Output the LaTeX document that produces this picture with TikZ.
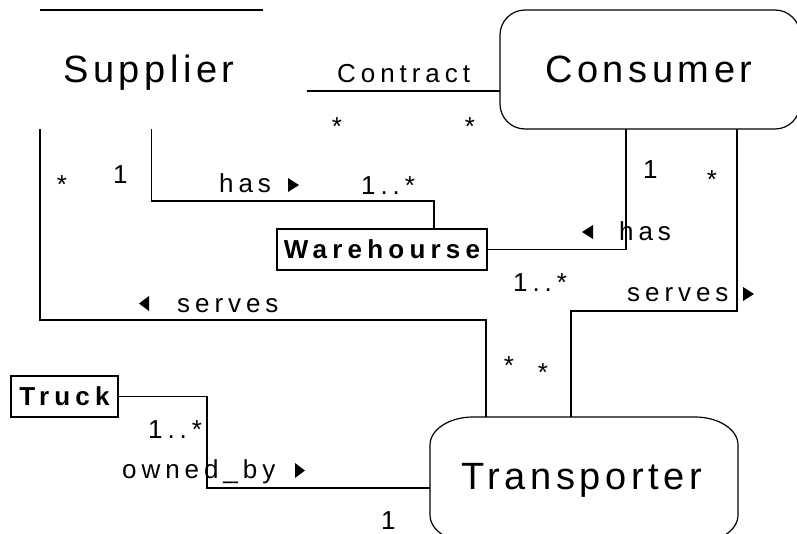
\documentclass[tikz,border=0pt]{standalone}
\usepackage{fontspec}
\setmainfont{Liberation Sans}
\newfontfamily\spacedsmall[LetterSpace=19]{Liberation Sans}
\newfontfamily\spacedbig[LetterSpace=12]{Liberation Sans}
\newfontfamily\spacedbold[LetterSpace=20]{Liberation Sans}
\tikzset{
  ent/.style={inner sep=0pt, outer sep=0pt},
  bigname/.style={inner sep=0pt, anchor=base west, font=\spacedbig\fontsize{38}{42}\selectfont},
  lbl/.style={inner sep=0pt, anchor=base west, font=\spacedsmall\fontsize{26}{28}\selectfont},
  mult/.style={inner sep=0pt, anchor=base, font=\fontsize{26}{28}\selectfont},
  cls/.style={draw, line width=1.8pt, inner sep=0pt, outer sep=0pt, minimum height=41pt,
    font=\spacedbold\bfseries\fontsize{26}{28}\selectfont},
  conn/.style={line width=1.2pt},
  rolebox/.style={line width=1.2pt}
}
\begin{document}
\begin{tikzpicture}[x=1pt, y=-1pt, line join=miter]
\useasboundingbox (0,0) rectangle (797,533);
\clip (0,0) rectangle (797,533);

% entity areas
\node[ent, minimum width=223pt, minimum height=119pt] (supplier) at (151.5,69.5) {};
\node[ent, draw, rolebox, rounded corners=25pt, minimum width=300pt, minimum height=119pt] (consumer) at (650,69.5) {};
\node[ent, minimum width=308pt, minimum height=126pt] (transporter) at (584,480) {};

% only the upper edge of the supplier frame is drawn
\draw[rolebox] (supplier.north west) -- (supplier.north east);

% transporter frame with elliptic corners
\draw[rolebox]
  ([shift={(43,0)}]transporter.north west) -- ([shift={(-43,0)}]transporter.north east)
  arc[start angle=90, end angle=0, x radius=43pt, y radius=28pt]
  -- ([shift={(0,-28)}]transporter.south east)
  arc[start angle=0, end angle=-90, x radius=43pt, y radius=28pt]
  -- ([shift={(43,0)}]transporter.south west)
  arc[start angle=270, end angle=180, x radius=43pt, y radius=28pt]
  -- ([shift={(0,28)}]transporter.north west)
  arc[start angle=180, end angle=90, x radius=43pt, y radius=28pt] -- cycle;

% class boxes
\node[cls, minimum width=210pt] (warehouse) at (382,249.5) {Warehourse};
\node[cls, minimum width=107pt] (truck) at (64.5,396.5) {Truck};

% entity names
\node[bigname] (tsup) at (63,82) {Supplier};
\node[bigname] (tcon) at (545,82) {Consumer};
\node[bigname] (ttra) at (461,489) {Transporter};

% connectors
\coordinate (contractEnd) at (307,91);
\draw[conn] (contractEnd) -- (contractEnd -| consumer.west);
\draw[conn] (supplier.south) -- ++(0,72) -| ([xshift=52pt]warehouse.north);
\draw[conn] (supplier.south west) -- ++(0,191) -| ([xshift=-98pt]transporter.north);
\draw[conn] (warehouse.east) -| ([xshift=-24pt]consumer.south);
\draw[conn] ([xshift=87pt]consumer.south) -- ++(0,182) -| ([xshift=-13pt]transporter.north);
\draw[conn] (truck.east) -- ++(89,0) |- ([yshift=-8pt]transporter.west);

% association names
\node[lbl] (lcontract) at (337,82) {Contract};
\node[lbl] (lhas1) at (219,192) {has};
\node[lbl] (lhas2) at (619,240) {has};
\node[lbl] (lserves1) at (177,312) {serves};
\node[lbl] (lserves2) at (627,301) {serves};
\node[lbl] (lowned) at (122,478) {owned\_by};

% reading-direction triangles
\fill (288,178) -- (288,192) -- (299,185) -- cycle;
\fill (593,225) -- (593,239) -- (582,232) -- cycle;
\fill (743,287) -- (743,301) -- (754,294) -- cycle;
\fill (149,296) -- (149,311) -- (139,303.5) -- cycle;
\fill (295,463) -- (295,478) -- (305,470.5) -- cycle;

% multiplicities
\node[mult] (m1) at (337,135) {*};
\node[mult] (m2) at (470,135) {*};
\node[mult] (m3) at (62,193) {*};
\node[lbl] (m4) at (113,183) {1};
\node[lbl] (m5) at (361,194) {1..*};
\node[lbl] (m6) at (643,178) {1};
\node[mult] (m7) at (712,188) {*};
\node[lbl] (m8) at (513,291) {1..*};
\node[mult] (m9) at (509,374) {*};
\node[mult] (m10) at (543,381) {*};
\node[lbl] (m11) at (148,438) {1..*};
\node[lbl] (m12) at (381,529) {1};
\end{tikzpicture}
\end{document}
